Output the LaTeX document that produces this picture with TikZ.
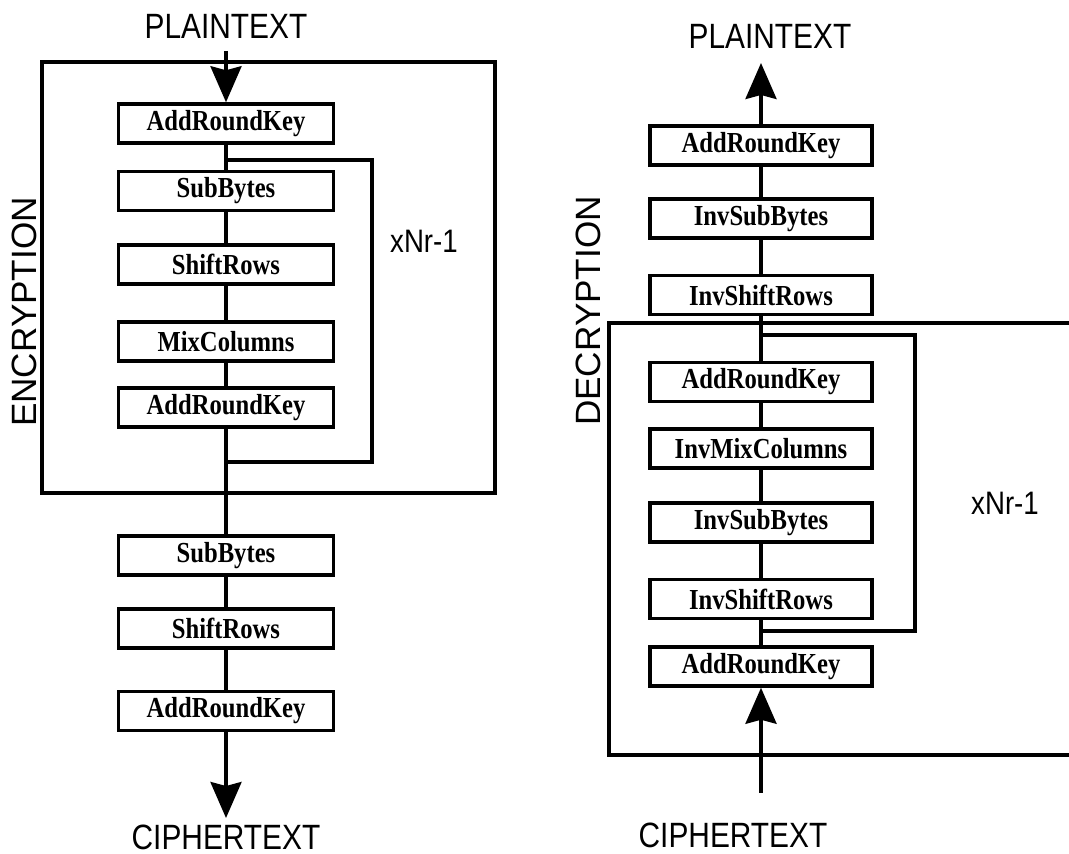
\documentclass[tikz,border=0pt]{standalone}
\usepackage{fontspec}
\setmainfont{Liberation Sans}[FakeStretch=0.85]
\newfontfamily\boxfont{Liberation Serif}[FakeStretch=0.85]
\newfontfamily\sidefont{Liberation Sans}
\usetikzlibrary{arrows.meta}

\begin{document}
\begin{tikzpicture}[x=0.02cm,y=-0.02cm,line width=2pt,
  >={Stealth[length=0.72cm,width=0.62cm,inset=0.08cm]},
  op/.style={draw,minimum width=#1,minimum height=0.78cm,inner sep=0pt,
    font=\boxfont\bfseries\fontsize{16.5}{18}\selectfont},
  op/.default=4.3cm,
  lbl/.style={font=\fontsize{20}{22}\selectfont},
  rep/.style={font=\fontsize{18.5}{20}\selectfont},
  side/.style={rotate=90,font=\sidefont\fontsize{20}{22}\selectfont}]
\useasboundingbox (0,0) rectangle (1069,854);

% encryption
\node(pt) at (226,26)[lbl] {PLAINTEXT};
\coordinate(pin) at (226,51);
\node(a1) at (226,123.5)[op] {AddRoundKey};
\node(s1) at (226,191)[op] {SubBytes};
\node(r1) at (226,264.5)[op] {ShiftRows};
\node(m1) at (226,341.5)[op] {MixColumns};
\node(a2) at (226,407.5)[op] {AddRoundKey};
\node(s2) at (226,555.5)[op] {SubBytes};
\node(r2) at (226,628.5)[op] {ShiftRows};
\node(a3) at (226,711)[op] {AddRoundKey};
\coordinate(cout) at (226,818);
\node(ct) at (226,837)[lbl] {CIPHERTEXT};
\node(n1) at (424,241)[rep] {xNr-1};
\node(enc) at (24,312)[side] {ENCRYPTION};

\draw[->] (pin) -- (a1);
\draw (a1) -- (s1);
\draw (s1) -- (r1);
\draw (r1) -- (m1);
\draw (m1) -- (a2);
\draw (a2) -- (s2);
\draw (s2) -- (r2);
\draw (r2) -- (a3);
\draw[->] (a3) -- (cout);

\coordinate(l1) at (226,160);
\coordinate(l2) at (226,462);
\draw (l1) -| (372,462) -- (l2);
\draw (42,62) rectangle (495,493);

% decryption
\node(pt2) at (770,36)[lbl] {PLAINTEXT};
\coordinate(pout) at (761,63);
\node(b1) at (761,145.5)[op=4.45cm] {AddRoundKey};
\node(i1) at (761,218.5)[op=4.45cm] {InvSubBytes};
\node(h1) at (761,295)[op=4.45cm] {InvShiftRows};
\node(b2) at (761,382)[op=4.45cm] {AddRoundKey};
\node(c1) at (761,448.5)[op=4.45cm] {InvMixColumns};
\node(i2) at (761,522.5)[op=4.45cm] {InvSubBytes};
\node(h2) at (761,599)[op=4.45cm] {InvShiftRows};
\node(b3) at (761,666.5)[op=4.45cm] {AddRoundKey};
\coordinate(cin) at (761,793);
\node(ct2) at (733,835)[lbl] {CIPHERTEXT};
\node(n2) at (1005,503)[rep] {xNr-1};
\node(dec) at (588,311)[side] {DECRYPTION};

\draw[->] (cin) -- (b3);
\draw (b3) -- (h2);
\draw (h2) -- (i2);
\draw (i2) -- (c1);
\draw (c1) -- (b2);
\draw (b2) -- (h1);
\draw (h1) -- (i1);
\draw (i1) -- (b1);
\draw[->] (b1) -- (pout);

\coordinate(k1) at (761,335);
\coordinate(k2) at (761,631);
\draw (k1) -| (915,631) -- (k2);
\draw (1069,323) -- (609,323) -- (609,755) -- (1069,755);

\end{tikzpicture}
\end{document}
